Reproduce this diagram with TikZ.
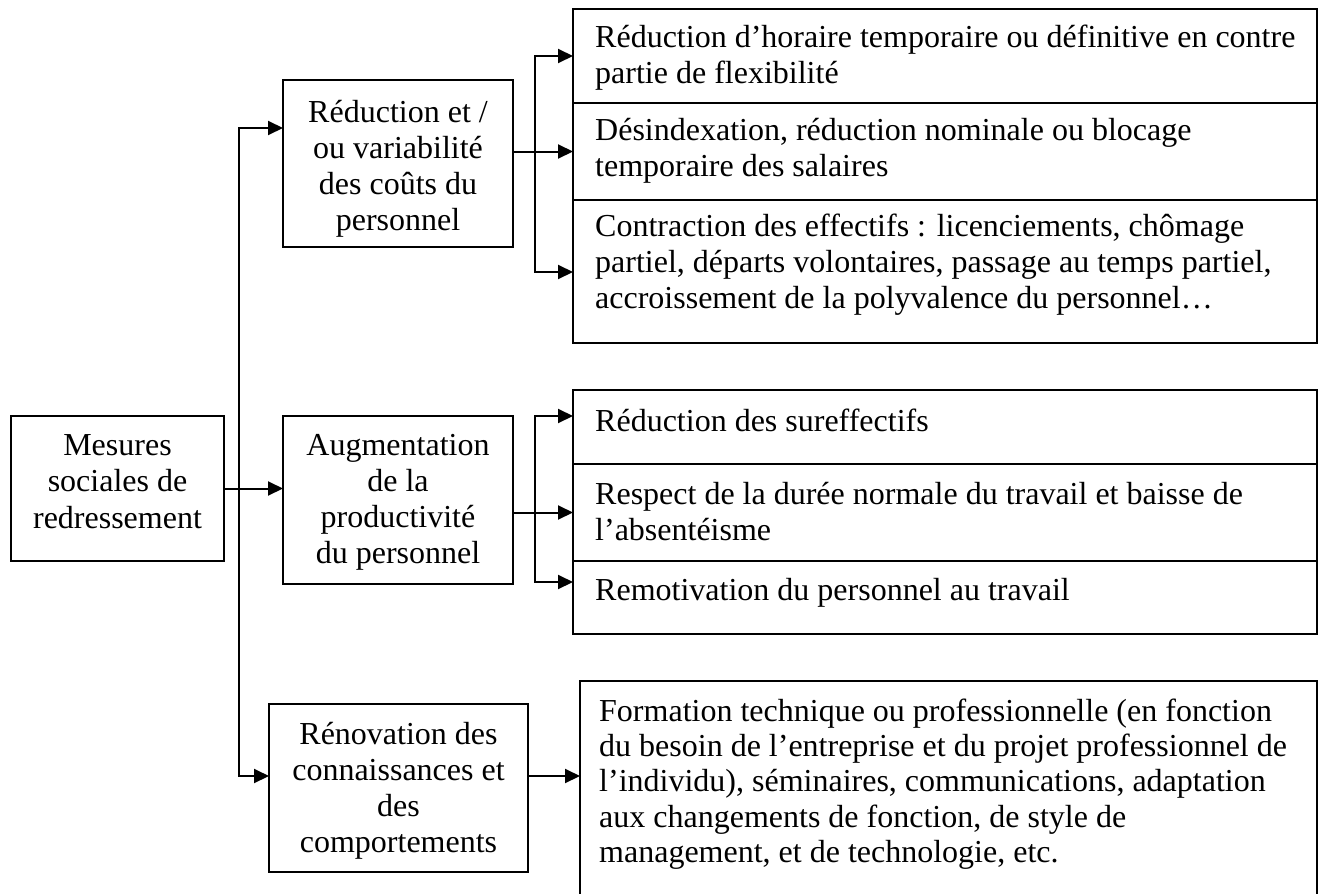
\documentclass[tikz,border=0pt]{standalone}
\usepackage{fontspec}
\setmainfont{Liberation Serif}
\usetikzlibrary{arrows.meta}
\begin{document}
\begin{tikzpicture}[x=1pt,y=-1pt,
  box/.style={draw,line width=1.3pt,inner sep=0pt,outer sep=0pt,anchor=north west},
  txt/.style={inner sep=0pt,font=\fontsize{32}{36.3}\selectfont},
  ctxt/.style={txt,anchor=north,align=center},
  ltxt/.style={txt,anchor=north west,align=left},
  conn/.style={line width=2pt},
  arr/.style={conn,-{Triangle[length=15pt,width=14pt]}},
  darr/.style={conn,{Triangle[length=15pt,width=14pt]}-{Triangle[length=15pt,width=14pt]}}]
\useasboundingbox (0,0) rectangle (1325,894);

% left column
\node[box,minimum width=213pt,minimum height=145pt] (m) at (11,416) {};
\node[ctxt] (mt) at (117.5,430) {\strut Mesures\\sociales de\\redressement};

% middle column
\node[box,minimum width=230pt,minimum height=167pt] (b1) at (283,80) {};
\node[ctxt] (b1t) at (398,96.4) {\strut Réduction et /\\ou variabilité\\des coûts du\\personnel};
\node[box,minimum width=230pt,minimum height=168pt] (b2) at (283,416) {};
\node[ctxt] (b2t) at (398,429.4) {\strut Augmentation\\de la\\productivité\\du personnel};
\node[box,minimum width=259pt,minimum height=168pt] (b3) at (269,704) {};
\node[ctxt] (b3t) at (398.5,718.4) {\strut Rénovation des\\connaissances et\\des\\comportements};

% right column, first group
\node[box,minimum width=744pt,minimum height=94pt] (c11) at (573,9) {};
\node[ltxt] (c11t) at (595,21.4) {\strut Réduction d’horaire temporaire ou définitive en contre\\partie de flexibilité};
\node[box,minimum width=744pt,minimum height=97pt] (c12) at (573,103) {};
\node[ltxt] (c12t) at (595,114.4) {\strut Désindexation, réduction nominale ou blocage\\temporaire des salaires};
\node[box,minimum width=744pt,minimum height=143pt] (c13) at (573,200) {};
\node[ltxt] (c13t) at (595,210.4) {\strut Contraction des effectifs : licenciements, chômage\\partiel, départs volontaires, passage au temps partiel,\\accroissement de la polyvalence du personnel…};

% right column, second group
\node[box,minimum width=744pt,minimum height=74pt] (c21) at (573,390) {};
\node[ltxt] (c21t) at (595,405.4) {\strut Réduction des sureffectifs};
\node[box,minimum width=744pt,minimum height=97pt] (c22) at (573,464) {};
\node[ltxt] (c22t) at (595,478.4) {\strut Respect de la durée normale du travail et baisse de\\l’absentéisme};
\node[box,minimum width=744pt,minimum height=73pt] (c23) at (573,561) {};
\node[ltxt] (c23t) at (595,574.4) {\strut Remotivation du personnel au travail};

% right column, third group (runs off the lower edge)
\node[box,minimum width=737pt,minimum height=220pt] (f) at (580,681) {};
\node[ltxt,font=\fontsize{32}{35.2}\selectfont] (ft) at (599,696.6) {\strut Formation technique ou professionnelle (en fonction\\du besoin de l’entreprise et du projet professionnel de\\l’individu), séminaires, communications, adaptation\\aux changements de fonction, de style de\\management, et de technologie, etc.};

% connectors
\coordinate (t1) at (239,128);
\coordinate (t3) at (239,776);
\draw[darr] (t1 -| b1.west) -- (t1) -- (t3) -- (t3 -| b3.west);
\draw[arr] (m.east) -- (m.east -| b2.west);

\coordinate (s1) at (535,56);
\coordinate (s3) at (535,272);
\draw[darr] (s1 -| c11.west) -- (s1) -- (s3) -- (s3 -| c13.west);
\draw[arr] (b1.east |- c12.west) -- (c12.west);

\coordinate (u1) at (535,416);
\coordinate (u3) at (535,582);
\draw[darr] (u1 -| c21.west) -- (u1) -- (u3) -- (u3 -| c23.west);
\draw[arr] (b2.east |- c22.west) -- (c22.west);

\draw[arr] (b3.east |- t3) -- (f.west |- t3);
\end{tikzpicture}
\end{document}
